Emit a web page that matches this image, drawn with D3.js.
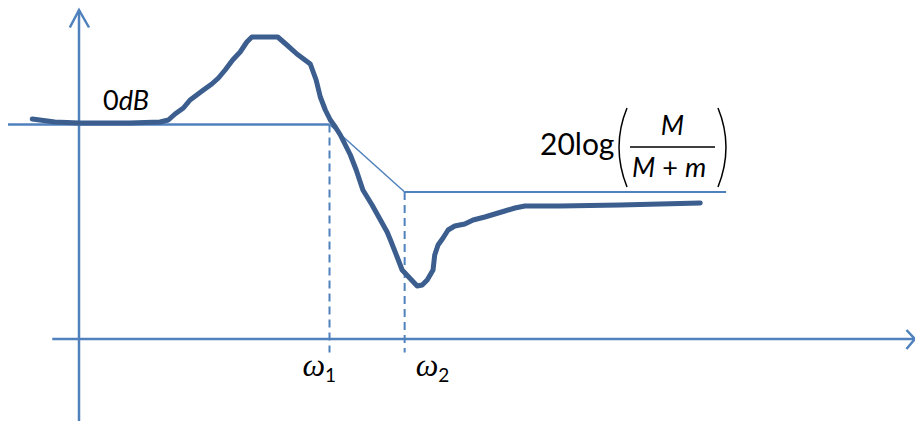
<!DOCTYPE html>
<html lang="en">
<head>
    <meta charset="UTF-8">
    <title>Frequency response sketch</title>
    <script src="https://d3js.org/d3.v7.min.js"></script>
    <style>
        body { margin: 0; background: #fff; }
        .axis-line { stroke: #4f81bd; stroke-width: 2.5; fill: none; }
        .asym { stroke: #4f81bd; fill: none; }
        .guide { stroke: #4f81bd; stroke-width: 2; stroke-dasharray: 8 5; fill: none; }
        .curve { stroke: #3b5e8f; stroke-width: 5; fill: none; stroke-linejoin: round; stroke-linecap: round; }
        .lbl { fill: #000; font-family: Lato, "Open Sans", sans-serif; }
        .omega { font-family: "Liberation Serif", serif; font-style: italic; }
    </style>
</head>
<body>
<div id="chart"></div>
<script>
    // response curve, x in frequency units, y in dB-like units
    const curveX = [-5.6, -2.9, 0, 2.5, 6.1, 9.7, 10.7, 11.5, 12.5, 13.3, 14.1, 14.9, 15.9, 16.7, 17.5,
        18.4, 19.3, 20.1, 20.7, 22.3, 23.8, 24.9, 26.1, 27.7, 28.4, 28.9, 29.5, 30.1, 30.7, 31.3,
        32.5, 33.2, 34.0, 35.1, 36.1, 36.9, 37.3, 38.1, 38.7, 39.6, 40.5, 41.1, 41.7, 42.4, 42.6,
        43.0, 43.6, 44.2, 45.0, 46.2, 47.2, 48.6, 49.8, 51.0, 52.2, 53.4, 57.6, 64.8, 74.4];
    const curveY = [0.55, 0.25, 0.15, 0.15, 0.15, 0.25, 0.45, 1.05, 1.65, 2.45, 2.95, 3.45, 4.05, 4.65, 5.45,
        6.45, 7.25, 8.25, 8.75, 8.75, 8.75, 7.95, 7.05, 6.05, 4.45, 2.75, 1.45, 0.45, -0.25, -1.05,
        -3.05, -4.55, -6.55, -8.05, -9.55, -10.75, -11.55, -13.25, -14.55, -15.35, -16.15, -16.05, -15.55, -14.55, -13.05,
        -12.05, -11.35, -10.55, -10.15, -9.95, -9.55, -9.25, -8.95, -8.65, -8.35, -8.15, -8.15, -8.05, -7.85];

    // asymptote break points
    const omegas = [30, 39];
    const omegaSubs = ["1", "2"];
    const highLevel = -6.75;

    const W = 915, H = 421;
    const x = d3.scaleLinear().domain([0, 100]).range([79, 914]);
    const y = d3.scaleLinear().domain([-21.45, 11.45]).range([339, 10]);

    const svg = d3.select("#chart").append("svg")
        .attr("width", W).attr("height", H);

    const line = d3.line().x(d => x(d[0])).y(d => y(d[1]));

    // axes with arrows
    svg.append("path").attr("class", "axis-line")
        .attr("d", line([[0, -29.7], [0, 11.45]]));
    svg.append("path").attr("class", "axis-line")
        .attr("d", line([[-1.1, 9.7], [0, 11.45], [1.2, 9.7]]));
    svg.append("path").attr("class", "axis-line")
        .attr("d", line([[-3.2, -21.45], [100.1, -21.45]]));
    svg.append("path").attr("class", "axis-line")
        .attr("d", line([[99.1, -20.55], [100.1, -21.45], [99.1, -22.45]]));

    // asymptotes
    svg.append("path").attr("class", "asym").attr("stroke-width", 2.5)
        .attr("d", line([[-8.5, 0], [omegas[0], 0]]));
    svg.append("path").attr("class", "asym").attr("stroke-width", 1.5)
        .attr("d", line([[omegas[0], 0], [omegas[1], highLevel]]));
    svg.append("path").attr("class", "asym").attr("stroke-width", 2)
        .attr("d", line([[omegas[1], highLevel], [77.5, highLevel]]));

    // dashed guides
    svg.append("path").attr("class", "guide")
        .attr("d", line([[omegas[0], 0], [omegas[0], -22.8]]));
    svg.append("path").attr("class", "guide")
        .attr("d", line([[omegas[1], highLevel], [omegas[1], -22.8]]));

    // response curve
    svg.append("path").attr("class", "curve")
        .attr("d", line(curveX.map((d, i) => [d, curveY[i]])));

    // omega labels
    const offs = [-27, 11];
    omegas.forEach((w, i) => {
        const t = svg.append("text").attr("class", "lbl")
            .attr("x", x(w) + offs[i]).attr("y", 376);
        t.append("tspan").attr("class", "omega").attr("font-size", 32).text("ω");
        t.append("tspan").attr("font-size", 19).attr("dy", 6).text(omegaSubs[i]);
    });

    // 0dB label
    const zd = svg.append("text").attr("class", "lbl")
        .attr("x", 103).attr("y", 110).attr("font-size", 27);
    zd.append("tspan").text("0");
    zd.append("tspan").attr("font-style", "italic").text("dB");

    // 20log(M/(M+m))
    svg.append("text").attr("class", "lbl")
        .attr("x", 540).attr("y", 155).attr("font-size", 30).text("20log");
    svg.append("path").attr("d", "M627,108 Q611,147 627,187")
        .attr("stroke", "#000").attr("stroke-width", 1.5).attr("fill", "none");
    svg.append("path").attr("d", "M718,108 Q734,147 718,187")
        .attr("stroke", "#000").attr("stroke-width", 1.5).attr("fill", "none");
    svg.append("line").attr("x1", 630).attr("x2", 715).attr("y1", 147).attr("y2", 147)
        .attr("stroke", "#000").attr("stroke-width", 1.5);
    svg.append("text").attr("class", "lbl").attr("text-anchor", "middle")
        .attr("x", 672.5).attr("y", 135).attr("font-size", 27).attr("font-style", "italic").text("M");
    const den = svg.append("text").attr("class", "lbl")
        .attr("x", 632).attr("y", 177).attr("font-size", 27);
    den.append("tspan").attr("font-style", "italic").text("M");
    den.append("tspan").attr("dx", 7).text("+");
    den.append("tspan").attr("dx", 7).attr("font-style", "italic").text("m");
</script>
</body>
</html>
